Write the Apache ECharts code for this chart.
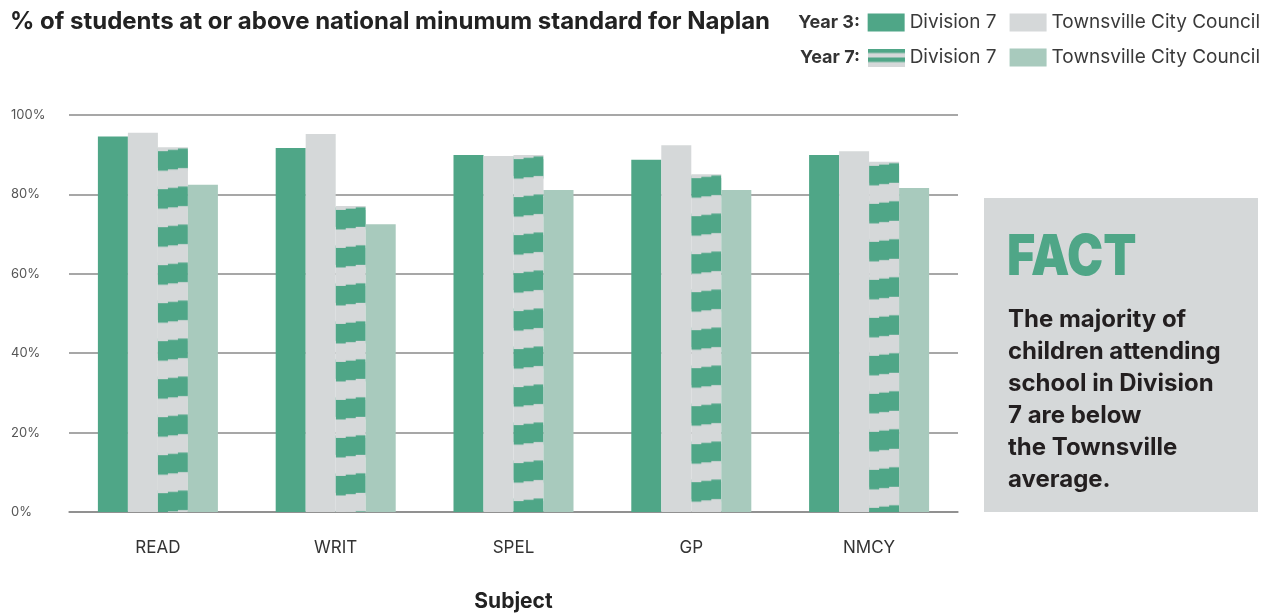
<!DOCTYPE html>
<html>
<head>
<meta charset="utf-8">
<script src="https://cdn.jsdelivr.net/npm/echarts@6/dist/echarts.min.js"></script>
<style>
  html, body { margin: 0; padding: 0; background: #fff; }
  #chart { width: 1275px; height: 614px; }
</style>
</head>
<body>
<div id="chart"></div>
<script>
// data
var categories = ['READ', 'WRIT', 'SPEL', 'GP', 'NMCY'];
var year3Division = [94.6, 91.7, 89.9, 88.7, 89.9];
var year3Council = [95.5, 95.2, 89.7, 92.4, 90.9];
var year7Division = [91.9, 77.1, 89.9, 85.1, 88.2];
var year7Council = [82.4, 72.5, 81.1, 81.1, 81.6];
var yTicks = [0, 20, 40, 60, 80, 100];

var green = '#4fa687';
var grey = '#d5d8d9';
var lightGreen = '#a8cabd';
var lineGrey = '#8a8a8a';
var font = 'Inter';

// striped fill for Year 7 Division 7 bars (grey with stepped green bands)
function makeStripes() {
    var c = document.createElement('canvas');
    c.width = 30; c.height = 38;
    var ctx = c.getContext('2d');
    ctx.fillStyle = grey;
    ctx.fillRect(0, 0, 30, 38);
    ctx.fillStyle = green;
    for (var s = 0; s < 3; s++) {
        ctx.fillRect(s * 10, 4 - 1.3 * s, 10, 19.5);
    }
    return c;
}
function makeLegendStripes() {
    var c = document.createElement('canvas');
    c.width = 37; c.height = 18;
    var ctx = c.getContext('2d');
    ctx.fillStyle = grey;
    ctx.fillRect(0, 0, 37, 18);
    ctx.fillStyle = green;
    ctx.fillRect(0, 0, 37, 4.5);
    ctx.fillRect(0, 9, 37, 4.5);
    return c;
}
var stripeCanvas = makeStripes();
var legendIcon = 'image://' + makeLegendStripes().toDataURL();

var dom = document.getElementById('chart');
var myChart = echarts.init(dom, null, { renderer: 'canvas' });

var legendText = {
    fontSize: 19,
    color: '#3a3a3a',
    fontFamily: font
};
function stripYear(n) { return n.replace(/^Year \d /, ''); }

var option = {
    animation: false,
    title: {
        text: '% of students at or above national minumum standard for Naplan',
        left: 5,
        top: 5,
        textStyle: { fontSize: 24, fontWeight: 'bold', color: '#222', fontFamily: font }
    },
    legend: [
        {
            data: ['Year 3 Division 7', 'Year 3 Townsville City Council'],
            right: 10, top: 8,
            icon: 'rect', itemWidth: 37, itemHeight: 18, itemGap: 13,
            selectedMode: false,
            formatter: stripYear,
            textStyle: legendText
        },
        {
            data: [{ name: 'Year 7 Division 7', icon: legendIcon }, 'Year 7 Townsville City Council'],
            right: 10, top: 43,
            icon: 'rect', itemWidth: 37, itemHeight: 18, itemGap: 13,
            selectedMode: false,
            formatter: stripYear,
            textStyle: legendText
        }
    ],
    grid: { left: 69, right: 317, top: 115, bottom: 102, outerBoundsMode: 'none', containLabel: false },
    xAxis: {
        type: 'category',
        data: categories,
        name: 'Subject',
        nameLocation: 'middle',
        nameGap: 79,
        nameTextStyle: { fontSize: 21, fontWeight: 'bold', color: '#222', fontFamily: font },
        axisLine: { lineStyle: { color: lineGrey, width: 1.5 } },
        axisTick: { alignWithLabel: true, length: 17, lineStyle: { color: lineGrey, width: 1.5 } },
        axisLabel: { fontSize: 17, color: '#333', fontFamily: font, margin: 27 }
    },
    yAxis: {
        type: 'value',
        min: yTicks[0],
        max: yTicks[yTicks.length - 1],
        interval: 20,
        axisLine: { show: false },
        axisTick: { show: false },
        splitLine: { lineStyle: { color: lineGrey, width: 1.5 } },
        axisLabel: { formatter: '{value}%', align: 'left', margin: 58, fontSize: 13, color: '#555', fontFamily: font }
    },
    series: [
        { name: 'Year 3 Division 7', type: 'bar', data: year3Division, itemStyle: { color: green }, barGap: '0%', barCategoryGap: '32.5%' },
        { name: 'Year 3 Townsville City Council', type: 'bar', data: year3Council, itemStyle: { color: grey } },
        { name: 'Year 7 Division 7', type: 'bar', data: year7Division, itemStyle: { color: grey } },
        { name: 'Year 7 Townsville City Council', type: 'bar', data: year7Council, itemStyle: { color: lightGreen } }
    ],
    graphic: [
        { type: 'text', x: 860, y: 23, style: { text: 'Year 3:', textAlign: 'right', textVerticalAlign: 'middle', font: 'bold 18px Inter', fill: '#333' } },
        { type: 'text', x: 860, y: 58, style: { text: 'Year 7:', textAlign: 'right', textVerticalAlign: 'middle', font: 'bold 18px Inter', fill: '#333' } },
        { type: 'rect', shape: { x: 984, y: 198, width: 274, height: 314 }, style: { fill: grey }, z: -1 },
        { type: 'text', x: 1007, y: 229, scaleX: 0.85, style: { text: 'FACT', font: '900 57px Inter', fill: green } },
        {
            type: 'text', x: 1008, y: 304,
            style: {
                text: 'The majority of\nchildren attending\nschool in Division\n7 are below\nthe Townsville\naverage.',
                font: 'bold 24px Inter', lineHeight: 32, fill: '#231f20'
            }
        }
    ]
};
myChart.setOption(option);

// anchor the stripe pattern to the top-left of each striped bar
var striped = [];
for (var i = 0; i < year7Division.length; i++) {
    var p = myChart.convertToPixel({ gridIndex: 0 }, [i, year7Division[i]]);
    striped.push({
        value: year7Division[i],
        itemStyle: { color: { image: stripeCanvas, repeat: 'repeat', x: p[0], y: p[1] } }
    });
}
myChart.setOption({ series: [{}, {}, { data: striped }, {}] });
</script>
</body>
</html>
